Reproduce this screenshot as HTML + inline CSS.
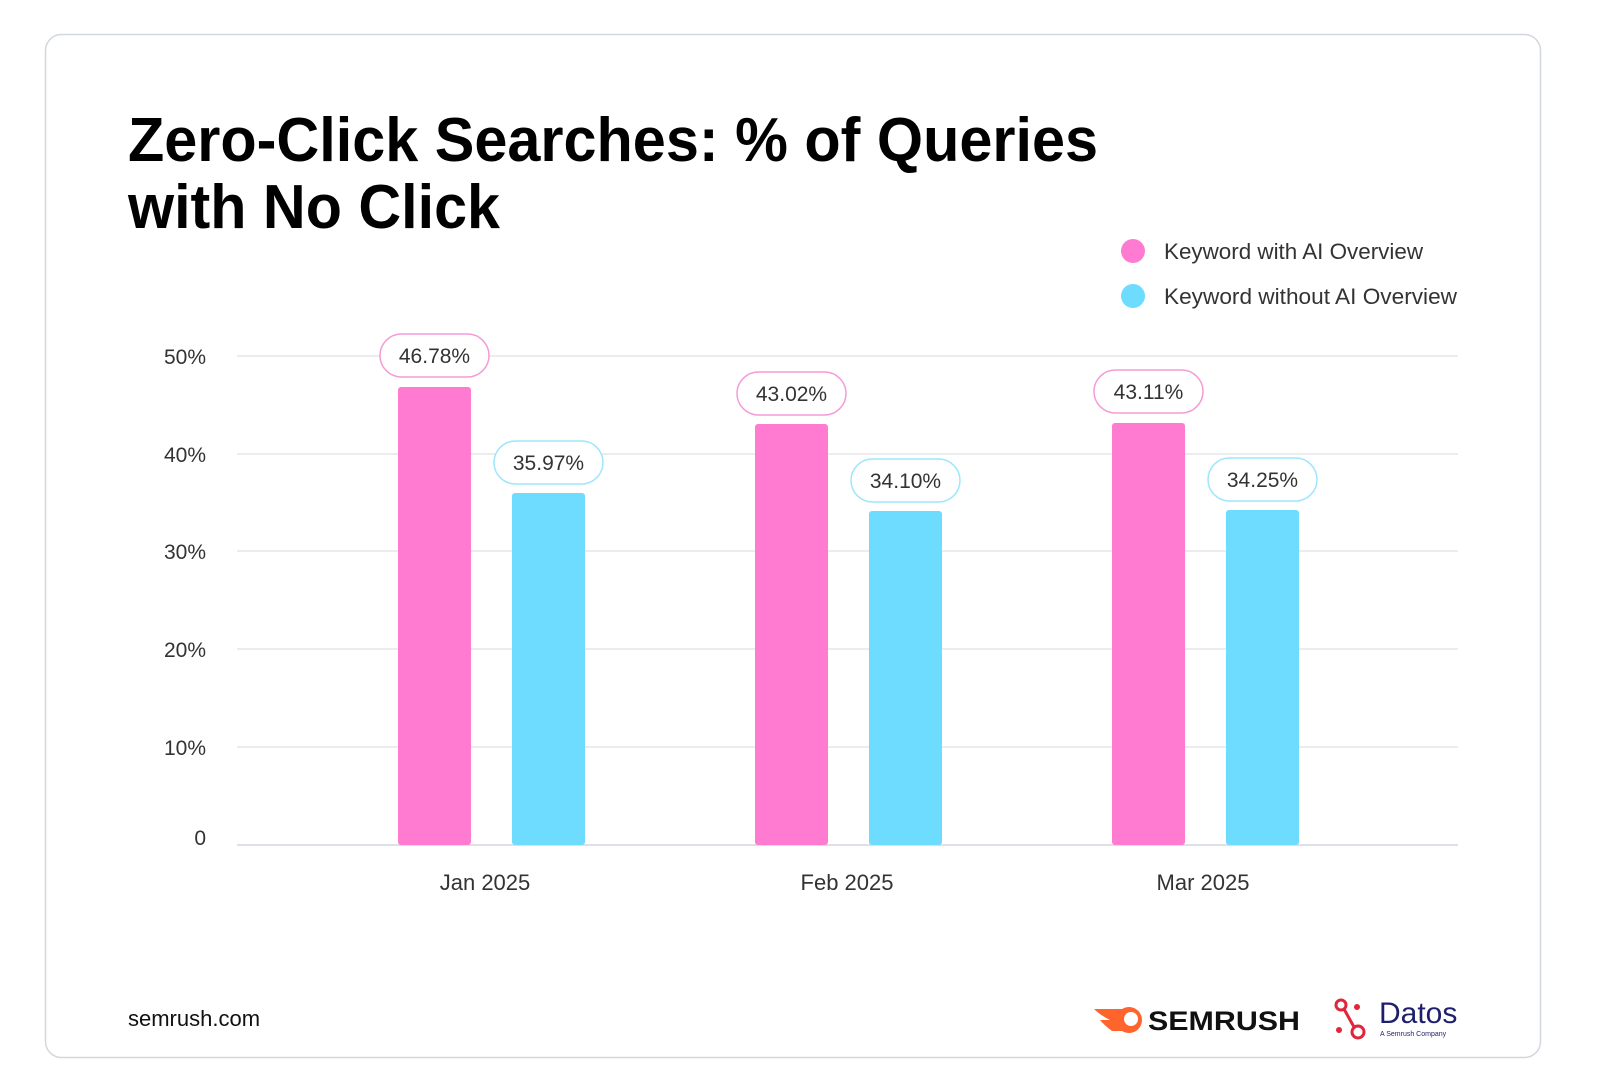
<!DOCTYPE html>
<html><head><meta charset="utf-8"><style>
html,body{margin:0;padding:0;background:#fff;}
svg{display:block;}
text{font-family:"Liberation Sans",sans-serif;}
</style></head><body>
<svg width="1600" height="1088" viewBox="0 0 1600 1088" xmlns="http://www.w3.org/2000/svg">
<rect x="45.5" y="34.5" width="1495" height="1023" rx="16" fill="#fff" stroke="#d3d7df" stroke-width="1.5"/>
<text x="128" y="161" font-size="62" font-weight="bold" fill="#000" textLength="970" lengthAdjust="spacingAndGlyphs">Zero-Click Searches: % of Queries</text>
<text x="128" y="228" font-size="62" font-weight="bold" fill="#000" textLength="372" lengthAdjust="spacingAndGlyphs">with No Click</text>
<circle cx="1133" cy="251" r="12" fill="#ff7ad1"/>
<circle cx="1133" cy="296" r="12" fill="#6ddcfe"/>
<text x="1164" y="259" font-size="22" fill="#333" textLength="259" lengthAdjust="spacingAndGlyphs">Keyword with AI Overview</text>
<text x="1164" y="304" font-size="22" fill="#333" textLength="293" lengthAdjust="spacingAndGlyphs">Keyword without AI Overview</text>
<g stroke="#e3e6ea" stroke-width="1.5">
<line x1="237" y1="356" x2="1458" y2="356"/>
<line x1="237" y1="454" x2="1458" y2="454"/>
<line x1="237" y1="551" x2="1458" y2="551"/>
<line x1="237" y1="649" x2="1458" y2="649"/>
<line x1="237" y1="747" x2="1458" y2="747"/>
<line x1="237" y1="845" x2="1458" y2="845" stroke="#dde1e6" stroke-width="2"/>
</g>
<g font-size="21" fill="#333" text-anchor="end">
<text x="206" y="364">50%</text>
<text x="206" y="462">40%</text>
<text x="206" y="559">30%</text>
<text x="206" y="657">20%</text>
<text x="206" y="755">10%</text>
<text x="206" y="845">0</text>
</g>
<g>
<rect x="398" y="387" width="73" height="458" rx="3" fill="#ff7ad1"/>
<rect x="512" y="493" width="73" height="352" rx="3" fill="#6ddcfe"/>
<rect x="755" y="424" width="73" height="421" rx="3" fill="#ff7ad1"/>
<rect x="869" y="511" width="73" height="334" rx="3" fill="#6ddcfe"/>
<rect x="1112" y="423" width="73" height="422" rx="3" fill="#ff7ad1"/>
<rect x="1226" y="510" width="73" height="335" rx="3" fill="#6ddcfe"/>
</g>
<g stroke-width="1.5" fill="#fff">
<rect x="380" y="334" width="109" height="43" rx="21.5" stroke="#f59bd6"/>
<rect x="494" y="441" width="109" height="43" rx="21.5" stroke="#9ee6fb"/>
<rect x="737" y="372" width="109" height="43" rx="21.5" stroke="#f59bd6"/>
<rect x="851" y="459" width="109" height="43" rx="21.5" stroke="#9ee6fb"/>
<rect x="1094" y="370" width="109" height="43" rx="21.5" stroke="#f59bd6"/>
<rect x="1208" y="458" width="109" height="43" rx="21.5" stroke="#9ee6fb"/>
</g>
<g font-size="21" fill="#333" text-anchor="middle">
<text x="434.5" y="363">46.78%</text>
<text x="548.5" y="470">35.97%</text>
<text x="791.5" y="401">43.02%</text>
<text x="905.5" y="488">34.10%</text>
<text x="1148.5" y="399">43.11%</text>
<text x="1262.5" y="487">34.25%</text>
</g>
<g font-size="22" fill="#333" text-anchor="middle">
<text x="485" y="890">Jan 2025</text>
<text x="847" y="890">Feb 2025</text>
<text x="1203" y="890">Mar 2025</text>
</g>
<text x="128" y="1026" font-size="22" fill="#111">semrush.com</text>
<g transform="translate(0,-9)">
<path d="M1094 1018 L1122 1018 L1122 1040 L1112 1040 Q1104 1034 1100 1029 L1110 1029 Q1100 1024 1094 1018Z" fill="#ff642d"/>
<circle cx="1129" cy="1029" r="13" fill="#ff642d"/>
<circle cx="1131" cy="1028" r="7" fill="#fff"/>
<text x="1148" y="1039" font-size="27" font-weight="bold" fill="#111" textLength="152" lengthAdjust="spacingAndGlyphs">SEMRUSH</text>
<g stroke="#e0263a" stroke-width="3" fill="none">
<circle cx="1341" cy="1014" r="5"/>
<circle cx="1358" cy="1041" r="6"/>
<line x1="1344" y1="1018" x2="1354" y2="1036"/>
</g>
<circle cx="1357" cy="1016" r="3" fill="#e0263a"/>
<circle cx="1339" cy="1039" r="3" fill="#e0263a"/>
<text x="1379" y="1032" font-size="30" fill="#1e1f6b">Datos</text>
<text x="1380" y="1045" font-size="7" fill="#1e1f6b">A Semrush Company</text>
</g>
</svg>
</body></html>
